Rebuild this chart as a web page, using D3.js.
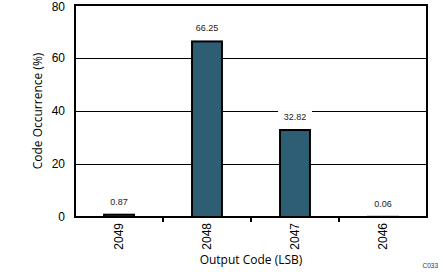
<!DOCTYPE html>
<html>
<head>
<meta charset="utf-8">
<script src="https://cdn.jsdelivr.net/npm/d3@7"></script>
<style>
  body { margin: 0; background: #fff; }
  text { font-family: "Liberation Sans", Arial, sans-serif; }
  .title { font-family: "Open Sans", "Liberation Sans", sans-serif; }
</style>
</head>
<body>
<svg id="chart" width="443" height="272"></svg>
<script>
const codes = ["2049", "2048", "2047", "2046"];
const occurrence = [0.87, 66.25, 32.82, 0.06];
const yTicks = [0, 20, 40, 60, 80];

const svg = d3.select("#chart");
const width = 443, height = 272;
const margin = { top: 5, right: 16, bottom: 55, left: 75 };
const innerW = width - margin.left - margin.right;
const innerH = height - margin.top - margin.bottom;

const x = d3.scaleBand()
  .domain(codes)
  .range([0, innerW])
  .paddingInner(0.66)
  .paddingOuter(0.33);

const y = d3.scaleLinear()
  .domain([0, 80])
  .range([innerH, 0]);

const g = svg.append("g")
  .attr("transform", `translate(${margin.left},${margin.top})`);

// gridlines
g.selectAll("line.grid")
  .data(yTicks.slice(1, -1))
  .join("line")
  .attr("x1", 0)
  .attr("x2", innerW)
  .attr("y1", d => Math.round(y(d)) + 0.5)
  .attr("y2", d => Math.round(y(d)) + 0.5)
  .attr("stroke", "black")
  .attr("stroke-width", 1);

// value labels with white background
const labels = g.selectAll("g.lbl")
  .data(codes)
  .join("g")
  .attr("transform", (d, i) => `translate(${x(d) + x.bandwidth() / 2},${y(occurrence[i]) - 10})`);

labels.append("rect")
  .attr("x", -17)
  .attr("y", -9)
  .attr("width", 34)
  .attr("height", 13)
  .attr("fill", "white");

labels.append("text")
  .attr("text-anchor", "middle")
  .attr("font-size", 9)
  .attr("fill", "#222")
  .text((d, i) => occurrence[i].toFixed(2));

// bars
g.selectAll("rect.bar")
  .data(codes)
  .join("rect")
  .attr("class", "bar")
  .attr("x", d => x(d))
  .attr("width", x.bandwidth())
  .attr("y", (d, i) => y(occurrence[i]))
  .attr("height", (d, i) => innerH - y(occurrence[i]))
  .attr("fill", "#2e5e74")
  .attr("stroke", "black")
  .attr("stroke-width", 2);

// frame
g.append("rect")
  .attr("x", 0)
  .attr("y", 0)
  .attr("width", innerW)
  .attr("height", innerH)
  .attr("fill", "none")
  .attr("stroke", "black")
  .attr("stroke-width", 2);

// y axis
const yAxis = g.append("g")
  .call(d3.axisLeft(y).tickValues(yTicks).tickSize(0).tickPadding(10));
yAxis.select(".domain").remove();
yAxis.selectAll("text")
  .attr("font-size", 12)
  .attr("font-family", "Liberation Sans, Arial, sans-serif")
  .attr("fill", "black")
  .attr("dy", d => d === 80 ? "0.42em" : "0.32em");

// x axis: ticks at band boundaries
const step = x.step();
const boundaries = d3.range(1, codes.length).map(i => x(codes[i]) - step * x.paddingInner() / 2);
g.selectAll("line.xtick")
  .data(boundaries)
  .join("line")
  .attr("x1", d => d)
  .attr("x2", d => d)
  .attr("y1", innerH)
  .attr("y2", innerH + 5)
  .attr("stroke", "black")
  .attr("stroke-width", 2);

g.selectAll("text.xlab")
  .data(codes)
  .join("text")
  .attr("transform", d => `translate(${x(d) + x.bandwidth() / 2 + 4},${innerH + 6}) rotate(-90)`)
  .attr("text-anchor", "end")
  .attr("font-size", 12)
  .attr("fill", "black")
  .text(d => d);

// axis titles
svg.append("text")
  .attr("class", "title")
  .attr("x", margin.left + innerW / 2)
  .attr("y", 264)
  .attr("text-anchor", "middle")
  .attr("font-size", 12)
  .text("Output Code (LSB)");

svg.append("text")
  .attr("class", "title")
  .attr("transform", `translate(42,${margin.top + innerH / 2}) rotate(-90)`)
  .attr("text-anchor", "middle")
  .attr("font-size", 12)
  .text("Code Occurrence (%)");

svg.append("text")
  .attr("x", 438)
  .attr("y", 268)
  .attr("text-anchor", "end")
  .attr("font-size", 6.5)
  .attr("fill", "#333")
  .text("C033");
</script>
</body>
</html>
